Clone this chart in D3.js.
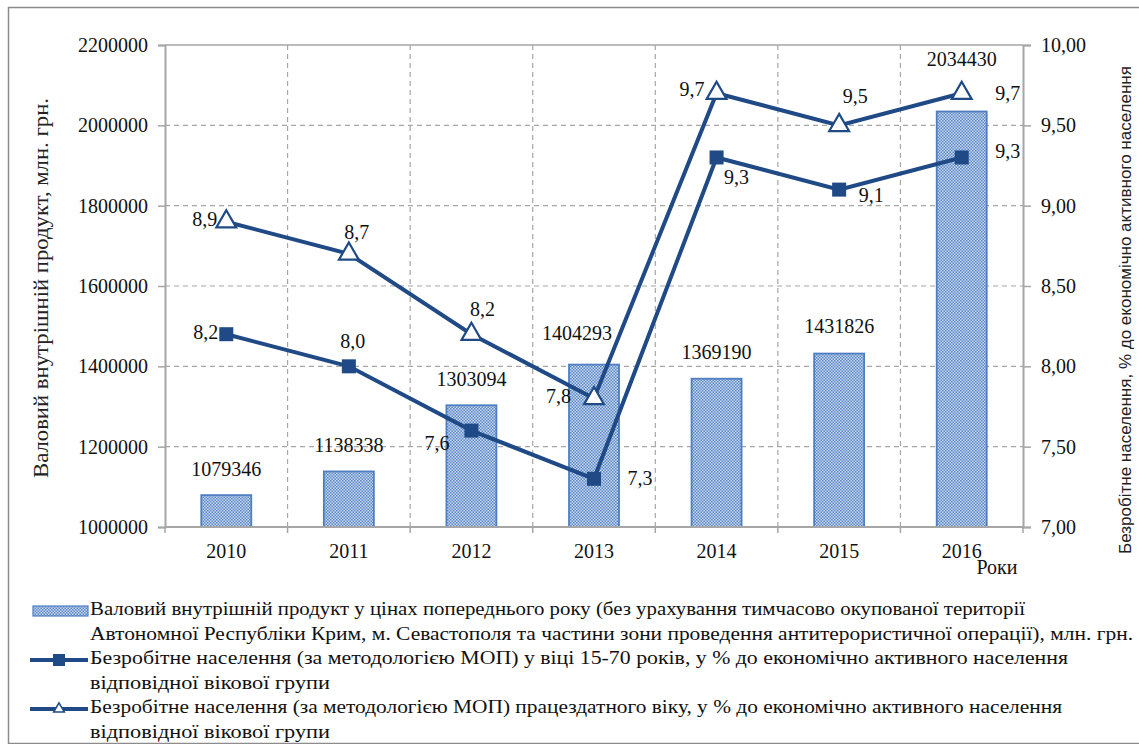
<!DOCTYPE html>
<html>
<head>
<meta charset="utf-8">
<script src="https://cdn.jsdelivr.net/npm/d3@7"></script>
<style>
  body { margin: 0; background: #fff; }
  svg { display: block; }
</style>
</head>
<body>
<div id="chart"></div>
<script>
// Data
const years = ["2010", "2011", "2012", "2013", "2014", "2015", "2016"];
const gdp = [1079346, 1138338, 1303094, 1404293, 1369190, 1431826, 2034430];
const unemp1570 = [8.2, 8.0, 7.6, 7.3, 9.3, 9.1, 9.3];
const unempWorking = [8.9, 8.7, 8.2, 7.8, 9.7, 9.5, 9.7];
const leftTicks = [1000000, 1200000, 1400000, 1600000, 1800000, 2000000, 2200000];
const rightTicks = [7.0, 7.5, 8.0, 8.5, 9.0, 9.5, 10.0];

const legendLines = [
  "Валовий внутрішній продукт у цінах попереднього року (без урахування тимчасово окупованої території",
  "Автономної Республіки Крим, м. Севастополя та частини зони проведення антитерористичної операції), млн. грн.",
  "Безробітне населення (за методологією МОП) у віці 15-70 років, у % до економічно активного населення",
  "відповідної вікової групи",
  "Безробітне населення (за методологією МОП) працездатного віку, у % до економічно активного населення",
  "відповідної вікової групи"
];

// label placement (dx, dy, anchor) for data labels
const barLabelPos = [[0, -24], [0, -24], [0, -24], [-17, -29], [0, -24], [0, -25], [0, -50]];
const sqLabelPos = [[-8, 0, "end"], [4, -23, "middle"], [-22, 15, "end"], [46, 2, "middle"], [20, 22, "middle"], [32, 8, "middle"], [46, -4, "middle"]];
const triLabelPos = [[-9, 0, "end"], [8, -19, "middle"], [11, -23, "middle"], [-23, 0, "end"], [-12, -2, "end"], [16, -27, "middle"], [46, 2, "middle"]];

const W = 1139, H = 744;
const margin = { left: 165, right: 1023, top: 45, bottom: 527 };
const lineColor = "#1f4a86";
const gridColor = "#a6a6a6";
const SERIF = '"Liberation Serif", "Times New Roman", Times, serif';
const SANS = '"Liberation Sans", Arial, sans-serif';

const svg = d3.select("#chart").append("svg")
  .attr("width", W).attr("height", H);

const defs = svg.append("defs");
const pat = defs.append("pattern")
  .attr("id", "checker")
  .attr("patternUnits", "userSpaceOnUse")
  .attr("width", 3).attr("height", 3);
pat.append("rect").attr("width", 3).attr("height", 3).attr("fill", "#c9d8ef");
pat.append("rect").attr("width", 1.5).attr("height", 1.5).attr("fill", "#5a87c8");
pat.append("rect").attr("x", 1.5).attr("y", 1.5).attr("width", 1.5).attr("height", 1.5).attr("fill", "#5a87c8");

// outer frame
svg.append("path")
  .attr("d", `M${W},7.5 H8.5 V${H - 0.5} H${W}`)
  .attr("fill", "none").attr("stroke", "#8c8c8c").attr("stroke-width", 1.5);

const x = d3.scaleBand().domain(years).range([margin.left, margin.right]).paddingInner(0).paddingOuter(0);
const yL = d3.scaleLinear().domain([1000000, 2200000]).range([margin.bottom, margin.top]);
const yR = d3.scaleLinear().domain([7, 10]).range([margin.bottom, margin.top]);

// horizontal grid
svg.append("g").selectAll("line")
  .data(leftTicks.slice(1, -1))
  .join("line")
  .attr("x1", margin.left).attr("x2", margin.right)
  .attr("y1", d => yL(d)).attr("y2", d => yL(d))
  .attr("stroke", gridColor).attr("stroke-width", 1.2).attr("stroke-dasharray", "5,4");

// vertical grid at band boundaries
svg.append("g").selectAll("line")
  .data(years.slice(1))
  .join("line")
  .attr("x1", d => x(d)).attr("x2", d => x(d))
  .attr("y1", margin.top).attr("y2", margin.bottom)
  .attr("stroke", gridColor).attr("stroke-width", 1.2).attr("stroke-dasharray", "5,4");

// top border of plot
svg.append("line")
  .attr("x1", margin.left).attr("x2", margin.right)
  .attr("y1", margin.top).attr("y2", margin.top)
  .attr("stroke", gridColor).attr("stroke-width", 1.5);

// bars
const barW = 50;
svg.append("g").selectAll("rect")
  .data(gdp)
  .join("rect")
  .attr("x", (d, i) => x(years[i]) + x.bandwidth() / 2 - barW / 2)
  .attr("width", barW)
  .attr("y", d => yL(d))
  .attr("height", d => margin.bottom - yL(d))
  .attr("fill", "url(#checker)")
  .attr("stroke", "#4f7fc0").attr("stroke-width", 1.8);

// axes
const axisL = d3.axisLeft(yL).tickValues(leftTicks).tickSize(7).tickPadding(10).tickFormat(d3.format("d"));
const gL = svg.append("g").attr("transform", `translate(${margin.left},0)`).call(axisL);
const axisR = d3.axisRight(yR).tickValues(rightTicks).tickSize(8).tickPadding(10)
  .tickFormat(d => d.toFixed(2).replace(".", ","));
const gR = svg.append("g").attr("transform", `translate(${margin.right},0)`).call(axisR);
const axisB = d3.axisBottom(x).tickSize(0).tickPadding(17);
const gB = svg.append("g").attr("transform", `translate(0,${margin.bottom})`).call(axisB);

[gL, gR, gB].forEach(g => {
  g.attr("font-family", SERIF).attr("font-size", 20);
  g.select(".domain").attr("stroke", gridColor).attr("stroke-width", 2);
  g.selectAll(".tick line").attr("stroke", gridColor).attr("stroke-width", 1.5);
  g.selectAll("text").style("font-family", SERIF).style("font-size", "20px").attr("fill", "#111");
});
gB.select(".domain").attr("d", `M${margin.left},0H${margin.right}`);

// bottom tick marks at band boundaries
svg.append("g").selectAll("line")
  .data([...years.map(d => x(d)), margin.right])
  .join("line")
  .attr("x1", d => d).attr("x2", d => d)
  .attr("y1", margin.bottom).attr("y2", margin.bottom + 6)
  .attr("stroke", gridColor).attr("stroke-width", 1.5);

// lines
const cx = i => x(years[i]) + x.bandwidth() / 2;
const line = d3.line().x((d, i) => cx(i)).y(d => yR(d));

svg.append("path").datum(unemp1570).attr("d", line)
  .attr("fill", "none").attr("stroke", lineColor).attr("stroke-width", 4);
svg.append("path").datum(unempWorking).attr("d", line)
  .attr("fill", "none").attr("stroke", lineColor).attr("stroke-width", 4);

// square markers
svg.append("g").selectAll("rect")
  .data(unemp1570)
  .join("rect")
  .attr("x", (d, i) => cx(i) - 7).attr("y", d => yR(d) - 7)
  .attr("width", 14).attr("height", 14)
  .attr("fill", lineColor);

// triangle markers
const tri = d3.symbol().type(d3.symbolTriangle).size(170);
svg.append("g").selectAll("path")
  .data(unempWorking)
  .join("path")
  .attr("transform", (d, i) => `translate(${cx(i)},${yR(d)})`)
  .attr("d", tri)
  .attr("fill", "#fff").attr("stroke", lineColor).attr("stroke-width", 2.2);

// data labels
const fmtComma = d => d.toFixed(1).replace(".", ",");
svg.append("g").selectAll("text")
  .data(gdp)
  .join("text")
  .attr("x", (d, i) => cx(i) + barLabelPos[i][0])
  .attr("y", (d, i) => yL(d) + barLabelPos[i][1])
  .attr("text-anchor", "middle").attr("dominant-baseline", "middle")
  .style("font-family", SERIF).style("font-size", "20px").attr("fill", "#111")
  .text(d => d);

svg.append("g").selectAll("text")
  .data(unemp1570)
  .join("text")
  .attr("x", (d, i) => cx(i) + sqLabelPos[i][0])
  .attr("y", (d, i) => yR(d) + sqLabelPos[i][1])
  .attr("text-anchor", (d, i) => sqLabelPos[i][2]).attr("dominant-baseline", "middle")
  .style("font-family", SERIF).style("font-size", "20px").attr("fill", "#111")
  .text(fmtComma);

svg.append("g").selectAll("text")
  .data(unempWorking)
  .join("text")
  .attr("x", (d, i) => cx(i) + triLabelPos[i][0])
  .attr("y", (d, i) => yR(d) + triLabelPos[i][1])
  .attr("text-anchor", (d, i) => triLabelPos[i][2]).attr("dominant-baseline", "middle")
  .style("font-family", SERIF).style("font-size", "20px").attr("fill", "#111")
  .text(fmtComma);

// axis titles
svg.append("text")
  .attr("transform", `translate(48,478) rotate(-90)`)
  .attr("textLength", 380).attr("lengthAdjust", "spacingAndGlyphs")
  .style("font-family", SERIF).style("font-size", "20px").attr("fill", "#222")
  .text("Валовий внутрішній продукт, млн. грн.");

svg.append("text")
  .attr("transform", `translate(1127,310) rotate(-90)`)
  .attr("text-anchor", "middle").attr("dominant-baseline", "middle")
  .style("font-family", SANS).style("font-size", "17px").attr("fill", "#222")
  .text("Безробітне населення, % до економічно активного населення");

svg.append("text")
  .attr("x", 997).attr("y", 569)
  .attr("text-anchor", "middle").attr("dominant-baseline", "middle")
  .style("font-family", SERIF).style("font-size", "20px").attr("fill", "#111")
  .text("Роки");

// legend
const legY = [611, 635.5, 660, 684.5, 709, 733.5];
const legLen = [935, 1043, 978, 240, 972, 240];
const leg = svg.append("g");
leg.selectAll("text")
  .data(legendLines)
  .join("text")
  .attr("x", 90)
  .attr("y", (d, i) => legY[i])
  .attr("dominant-baseline", "middle")
  .style("font-family", SERIF).style("font-size", "19px").attr("fill", "#111")
  .attr("textLength", (d, i) => legLen[i])
  .attr("lengthAdjust", "spacingAndGlyphs")
  .text(d => d);

leg.append("rect")
  .attr("x", 33).attr("y", legY[0] - 5).attr("width", 55).attr("height", 10)
  .attr("fill", "url(#checker)").attr("stroke", "#4f7fc0").attr("stroke-width", 1.2);

leg.append("line")
  .attr("x1", 30).attr("x2", 88).attr("y1", legY[2]).attr("y2", legY[2])
  .attr("stroke", lineColor).attr("stroke-width", 4);
leg.append("rect")
  .attr("x", 53).attr("y", legY[2] - 6).attr("width", 12).attr("height", 12)
  .attr("fill", lineColor);

leg.append("line")
  .attr("x1", 30).attr("x2", 88).attr("y1", legY[4]).attr("y2", legY[4])
  .attr("stroke", lineColor).attr("stroke-width", 4);
leg.append("path")
  .attr("transform", `translate(59,${legY[4]})`)
  .attr("d", d3.symbol().type(d3.symbolTriangle).size(50))
  .attr("fill", "#fff").attr("stroke", lineColor).attr("stroke-width", 1.5);
</script>
</body>
</html>
